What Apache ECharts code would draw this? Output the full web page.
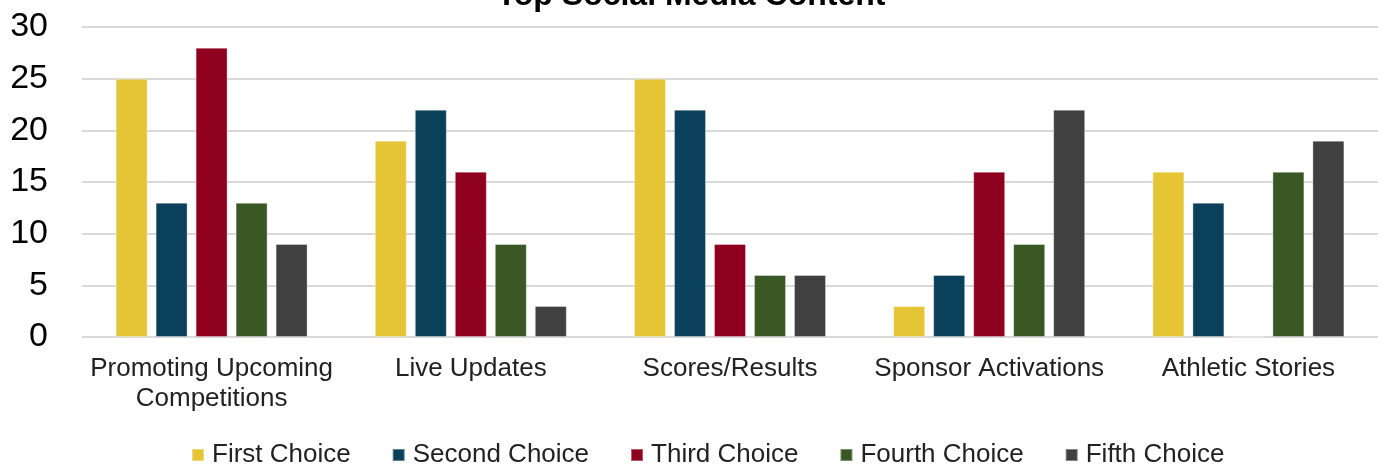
<!DOCTYPE html>
<html>
<head>
<meta charset="utf-8">
<script src="https://cdn.jsdelivr.net/npm/echarts@6/dist/echarts.min.js"></script>
<style>
  html, body { margin: 0; padding: 0; background: #fff; }
  #chart { width: 1382px; height: 464px; }
</style>
</head>
<body>
<div id="chart"></div>
<script>
const categories = ['Promoting Upcoming\nCompetitions', 'Live Updates', 'Scores/Results', 'Sponsor Activations', 'Athletic Stories']
const seriesNames = ['First Choice', 'Second Choice', 'Third Choice', 'Fourth Choice', 'Fifth Choice']
const firstChoice = [25, 19, 25, 3, 16]
const secondChoice = [13, 22, 22, 6, 13]
const thirdChoice = [28, 16, 9, 16, 0]
const fourthChoice = [13, 9, 6, 9, 16]
const fifthChoice = [9, 3, 6, 22, 19]
const colors = ['#e5c536', '#0b405b', '#8e001e', '#3a5824', '#404040']

const chart = echarts.init(document.getElementById('chart'))
const values = [firstChoice, secondChoice, thirdChoice, fourthChoice, fifthChoice]

const option = {
  animation: false,
  textStyle: { fontFamily: 'Liberation Sans, Arial, sans-serif' },
  title: {
    text: 'Top Social Media Content',
    left: 'center',
    top: -25,
    textStyle: { fontSize: 32, fontWeight: 'bold', color: '#000' }
  },
  legend: {
    left: 186,
    bottom: -9,
    itemWidth: 12,
    itemHeight: 12,
    itemGap: 41,
    icon: 'rect',
    textStyle: { fontSize: 26, color: '#222', padding: [0, 0, 0, 3] },
    data: seriesNames
  },
  grid: {
    left: 82,
    right: 4,
    top: 27,
    bottom: 127
  },
  xAxis: {
    type: 'category',
    data: categories,
    axisLine: { show: false },
    axisTick: { show: false },
    axisLabel: {
      fontSize: 26,
      color: '#222',
      margin: 17,
      lineHeight: 30,
      interval: 0
    }
  },
  yAxis: {
    type: 'value',
    min: 0,
    max: 30,
    interval: 5,
    axisLine: { show: false },
    axisTick: { show: false },
    axisLabel: { fontSize: 34, color: '#000', margin: 34 },
    splitLine: { lineStyle: { color: '#d9d9d9', width: 2 } }
  },
  series: seriesNames.map((name, i) => ({
    name: name,
    type: 'bar',
    data: values[i],
    barWidth: 32,
    barGap: '25%',
    itemStyle: {
      color: colors[i],
      borderColor: 'rgba(255,255,255,0.35)',
      borderWidth: 1
    }
  }))
}
chart.setOption(option)
</script>
</body>
</html>
